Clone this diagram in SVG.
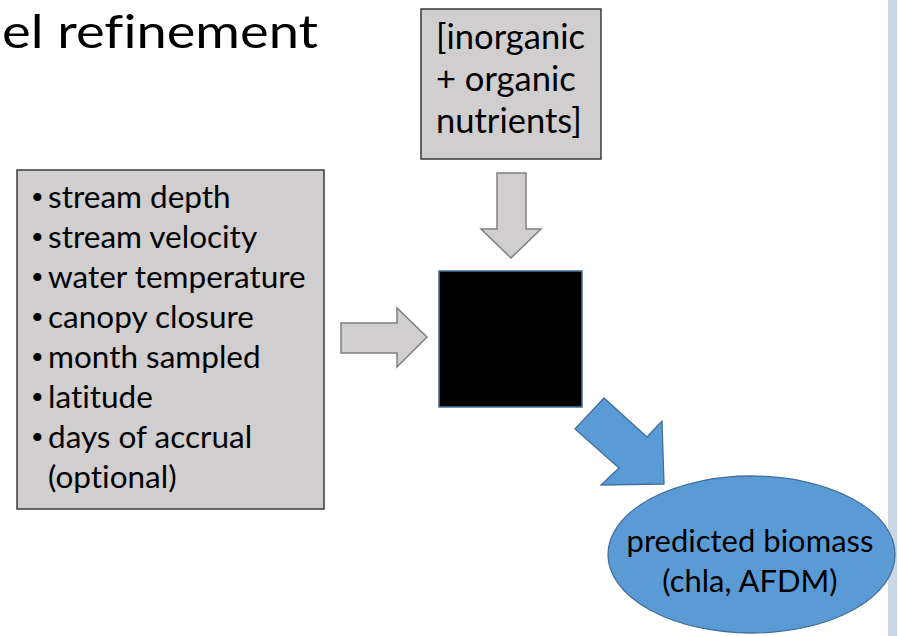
<svg xmlns="http://www.w3.org/2000/svg" width="899" height="636" viewBox="0 0 899 636">
  <style>
    text { font-variant-ligatures: none; font-feature-settings: "liga" 0, "clig" 0; }
    .title { font-family: Lato, "Open Sans", "Liberation Sans", sans-serif; font-size: 47px; fill: #000; }
    .lbl { font-family: Lato, "Open Sans", "Liberation Sans", sans-serif; fill: #000; }
    .bul { font-family: Lato, "Open Sans", "Liberation Sans", sans-serif; font-size: 22px; fill: #000; }
    .box { fill: #d0cece; stroke: #3a3a3a; stroke-width: 1.5; }
    .garrow { fill: #d0cece; stroke: #808080; stroke-width: 1.5; stroke-linejoin: miter; }
    .barrow { fill: #5b9bd5; stroke: #41719c; stroke-width: 1.3; }
  </style>

  <!-- slide background and side band -->
  <rect x="0" y="0" width="899" height="636" fill="#ffffff"/>
  <rect x="888" y="0" width="9" height="636" fill="#cad7e5"/>

  <!-- slide title -->
  <text class="title" x="2" y="48" textLength="316" lengthAdjust="spacingAndGlyphs">el refinement</text>

  <!-- input nutrients -->
  <g id="nutrients">
    <rect class="box" x="421" y="9" width="180" height="150"/>
    <text class="lbl" font-size="34.5" x="436" y="49">[inorganic</text>
    <text class="lbl" font-size="34.5" x="436" y="91">+ organic</text>
    <text class="lbl" font-size="34.5" x="436" y="133">nutrients]</text>
  </g>

  <!-- predictor variables -->
  <g id="predictors">
    <rect class="box" x="17" y="170" width="307" height="339"/>
    <g class="bul">
      <text x="31" y="204">•</text>
      <text x="31" y="244">•</text>
      <text x="31" y="284">•</text>
      <text x="31" y="324">•</text>
      <text x="31" y="364">•</text>
      <text x="31" y="404">•</text>
      <text x="31" y="444">•</text>
    </g>
    <g class="lbl" font-size="31.5">
      <text x="48" y="208">stream depth</text>
      <text x="48" y="248">stream velocity</text>
      <text x="48" y="288">water temperature</text>
      <text x="48" y="328">canopy closure</text>
      <text x="48" y="368">month sampled</text>
      <text x="48" y="408">latitude</text>
      <text x="48" y="448">days of accrual</text>
      <text x="48" y="488">(optional)</text>
    </g>
  </g>

  <!-- model (black box) -->
  <g id="model">
    <rect x="439" y="271" width="143" height="136" fill="#000000" stroke="#41719c" stroke-width="1.5"/>
  </g>

  <!-- output -->
  <g id="biomass">
    <ellipse cx="751.5" cy="554.5" rx="143.5" ry="78.5" fill="#5b9bd5" stroke="#41719c" stroke-width="1.3"/>
    <text class="lbl" font-size="31" x="750" y="552" text-anchor="middle">predicted biomass</text>
    <text class="lbl" font-size="31" x="750" y="592" text-anchor="middle">(chla, AFDM)</text>
  </g>

  <!-- block arrows -->
  <g id="connectors">
    <polygon class="garrow" points="497,173 526,173 526,229 541,229 511,258 481,229 497,229"/>
    <polygon class="garrow" points="341,323 397,323 397,308 427,337 397,367 397,353 341,353"/>
    <polygon class="barrow" points="575,429 604,398 647,437 662,421 664,484 601,485 619,468"/>
  </g>
</svg>
